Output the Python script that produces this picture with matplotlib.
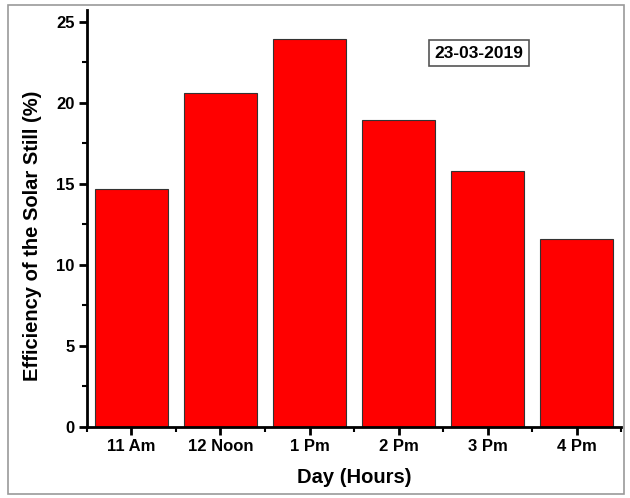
import matplotlib
matplotlib.use("Agg")
import matplotlib.pyplot as plt
from matplotlib.patches import Rectangle
from matplotlib.ticker import MultipleLocator

plt.rcParams['font.family'] = ['Liberation Sans', 'DejaVu Sans']
plt.rcParams['font.weight'] = 'bold'

categories = ["11 Am", "12 Noon", "1 Pm", "2 Pm", "3 Pm", "4 Pm"]
efficiency = [14.7, 20.6, 23.9, 18.9, 15.8, 11.6]
y_ticks = [0, 5, 10, 15, 20, 25]

fig = plt.figure(figsize=(6.3, 4.98), dpi=100)
fig.patches.append(Rectangle((0.012, 0.008), 0.978, 0.982, transform=fig.transFigure,
                             fill=False, edgecolor='#9a9a9a', linewidth=1.2))
ax = fig.add_axes([0.138, 0.1426, 0.848, 0.837])

x = list(range(1, len(categories) + 1))
ax.bar(x, efficiency, width=0.82, color='#ff0000', edgecolor='#333333', linewidth=0.8)

ax.set_xlim(0.5, 6.5)
ax.set_ylim(0, 25.7)
ax.set_xticks(x)
ax.set_xticklabels(categories, fontsize=12, fontweight='bold')
ax.set_yticks(y_ticks)
ax.set_yticklabels([str(v) for v in y_ticks], fontsize=12, fontweight='bold')
ax.yaxis.set_minor_locator(MultipleLocator(2.5))
ax.set_xticks([i + 0.5 for i in range(0, 7)], minor=True)

for s in ['top', 'right']:
    ax.spines[s].set_visible(False)
for s in ['left', 'bottom']:
    ax.spines[s].set_linewidth(2)

ax.tick_params(axis='both', which='major', direction='out', length=6, width=2, pad=3)
ax.tick_params(axis='both', which='minor', direction='out', length=3.5, width=1.5)

ax.set_xlabel("Day (Hours)", fontsize=14.5, fontweight='bold', labelpad=10)
ax.set_ylabel("Efficiency of the Solar Still (%)", fontsize=14.5, fontweight='bold')
ax.yaxis.set_label_coords(-0.084, 0.458)

ax.text(0.734, 0.897, "23-03-2019", transform=ax.transAxes, fontsize=12.5, fontweight='bold',
        ha='center', va='center',
        bbox=dict(boxstyle='square,pad=0.3', facecolor='white', edgecolor='#555555', linewidth=1.2))

fig.savefig("out.png", dpi=100)
